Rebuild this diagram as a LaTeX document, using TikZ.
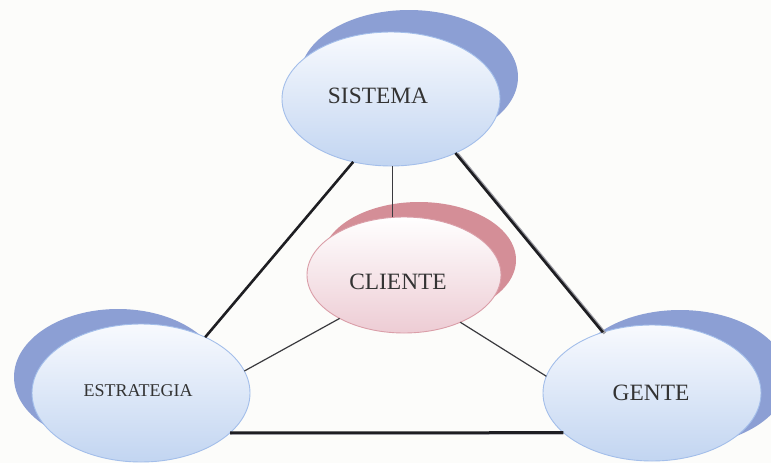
\documentclass[tikz,border=0pt]{standalone}
\usepackage{fontspec}
\setmainfont{Liberation Serif}
\usetikzlibrary{shapes.geometric}
\begin{document}
\begin{tikzpicture}[x=1pt,y=-1pt,
  bubble/.style={ellipse, inner sep=0pt, outer sep=0pt, line width=0.9pt},
  bluebubble/.style={bubble, draw=bluerim, top color=blueTop, bottom color=blueBot,
    minimum width=218pt, minimum height=134pt},
  bluerimshade/.style={bubble, fill=blueShade, minimum width=218pt, minimum height=134pt},
  pinkbubble/.style={bubble, draw=pinkrim, top color=white, bottom color=pinkBot,
    minimum width=194pt, minimum height=116pt},
  pinkrimshade/.style={bubble, fill=pinkShade, minimum width=194pt, minimum height=116pt},
  lbl/.style={inner sep=0pt, text=textGray, font=\fontsize{23.4}{26}\selectfont},
  smalllbl/.style={lbl, font=\fontsize{18}{21}\selectfont},
  heavy/.style={line width=2.6pt, draw=lineDark},
  heavyshade/.style={line width=3.2pt, draw=lineShade},
  light/.style={line width=1.2pt, draw=lineThin}
]
\definecolor{bg}{HTML}{FCFCFA}
\definecolor{blueTop}{HTML}{F8FAFE}
\definecolor{blueBot}{HTML}{C2D5F1}
\definecolor{bluerim}{HTML}{A3BEEA}
\definecolor{blueShade}{HTML}{8C9FD4}
\definecolor{pinkBot}{HTML}{EDCCD4}
\definecolor{pinkrim}{HTML}{DA9EA8}
\definecolor{pinkShade}{HTML}{D48E97}
\definecolor{textGray}{HTML}{333333}
\definecolor{lineDark}{HTML}{1E1E22}
\definecolor{lineShade}{HTML}{9C9CA4}
\definecolor{lineThin}{HTML}{3A3A3E}

\useasboundingbox (0,0) rectangle (771,463);
\clip (0,0) rectangle (771,463);
\fill[bg] (0,0) rectangle (771,463);

% offset shadow discs behind each bubble
\node[bluerimshade] (sis-sh) at (409,77) {};
\node[pinkrimshade] (cli-sh) at (419,260) {};
\node[bluerimshade, minimum width=208pt, minimum height=136pt] (est-sh) at (118,377) {};
\node[bluerimshade, minimum width=216pt, minimum height=136pt] (gen-sh) at (680,378) {};

% front bubbles
\node[bluebubble] (sis) at (391,99) {};
\node[pinkbubble] (cli) at (404,275) {};
\node[bluebubble, minimum height=138pt] (est) at (141,393) {};
\node[bluebubble, minimum height=136pt] (gen) at (652,393) {};

% labels
\node[lbl] (sis-t) at (378,96) {SISTEMA};
\node[lbl] (cli-t) at (398,282) {CLIENTE};
\node[smalllbl] (est-t) at (138,391) {ESTRATEGIA};
\node[lbl] (gen-t) at (651,393) {GENTE};

% outer triangle
\draw[heavyshade] ([xshift=2pt,yshift=-1pt]sis.320) -- ([xshift=2pt,yshift=-1pt]gen.129);
\draw[heavyshade, line width=2pt] ([yshift=-1.2pt]est.336) -- ([yshift=-1.2pt]gen.204);
\draw[heavy] (sis.239) -- (est.41);
\draw[heavy] (sis.320) -- (gen.129);
\draw[heavy] (est.336) -- (gen.204);

% spokes to the centre
\draw[light] (cli.101) -- (cli.101 |- sis.south);
\draw[light] (cli.214) -- (est.12);
\draw[light] (cli.320) -- (gen.171);
\end{tikzpicture}
\end{document}
